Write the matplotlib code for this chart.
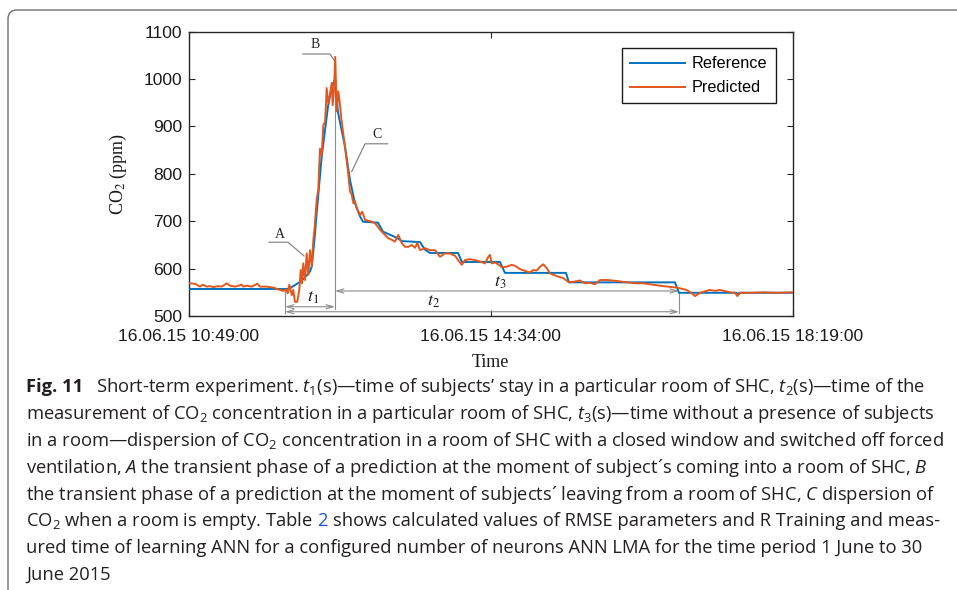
import numpy as np
import matplotlib.pyplot as plt
from matplotlib.patches import FancyBboxPatch

plt.rcParams['mathtext.fontset'] = 'custom'
plt.rcParams['mathtext.rm'] = 'Open Sans'
plt.rcParams['mathtext.it'] = 'Open Sans:italic'
plt.rcParams['mathtext.bf'] = 'Open Sans:bold'

# time axis in minutes after 16.06.15 10:49:00
ref_t = [0, 73, 76, 82.7, 86, 90.2, 91.5, 93.5, 95.2, 98.9, 103.6, 106.6, 108.8,
         111.1, 116.3, 120.0, 123.7, 127.5, 129.7, 140.9, 144.6, 155.0, 158.8,
         172.2, 175.9, 179.6, 200.5, 203.5, 231.8, 235.5, 281.0, 283.2, 362.2,
         365.2, 408.0, 408.7, 410.0, 450]
ref_co2 = [557, 557, 560, 572, 580, 594, 605, 660, 718, 836, 942, 985, 1000,
           929, 857, 787, 738, 710, 699, 697, 678, 665, 658,
           656, 640, 633, 633, 614, 614, 591, 591, 571, 571,
           549, 549, 545, 549, 549]

pred_t = [0, 4.5, 8.2, 10.2, 13.2, 15.7, 18.1, 21.8, 24.4, 28.1, 30.6, 34.3,
          39.3, 40.5, 43.0, 46.7, 50.9, 52.9, 57.9, 62.8, 67.8, 70.3, 72.3,
          73.6, 74.8, 76.6, 77.7, 79.0, 80.7, 82.2, 83.3, 84.2, 85.2, 86.5,
          87.7, 88.9, 90.2, 91.5, 92.7, 93.5, 95.2, 96.4, 97.6, 98.9, 100.1,
          101.4, 102.1, 102.6, 103.8, 105.1, 106.4, 107.1, 108.1, 109.0, 110.1,
          111.3, 112.6, 113.8, 116.3, 118.7, 120.0, 121.3, 122.5, 123.7, 125.0,
          127.5, 129.2, 131.2, 133.6, 136.2, 138.6, 142.4, 146.1, 148.6, 151.1,
          153.5, 156.0, 158.5, 161.0, 163.5, 166.0, 168.5, 170.2, 172.2, 175.9,
          179.6, 183.4, 187.1, 190.8, 194.5, 198.3, 200.7, 203.3, 205.7, 209.4,
          213.2, 216.9, 220.6, 223.1, 224.4, 225.6, 228.1, 230.5, 233.1, 236.8,
          240.5, 243.0, 246.7, 251.7, 254.2, 256.6, 259.2, 261.6, 264.1, 266.6,
          269.1, 271.5, 275.3, 279.0, 282.7, 286.4, 291.4, 295.2, 298.9, 302.6,
          306.4, 311.3, 318.8, 326.3, 333.7, 338.6, 353.5, 363.5, 371.0, 374.7,
          377.2, 380.9, 388.3, 392.1, 395.8, 403.2, 407.0, 408.7, 410.7, 418.2,
          428.1, 438.0, 450]
pred_co2 = [569, 568, 562, 566, 562, 563, 561, 563, 562, 569, 564, 562,
            566, 562, 564, 562, 568, 562, 562, 560, 555, 553, 556,
            548, 566, 544, 555, 530, 530, 555, 597, 569, 611, 576,
            632, 587, 639, 604, 661, 682, 746, 768, 853, 839, 902,
            910, 945, 981, 950, 967, 992, 945, 978, 1047, 932,
            974, 945, 910, 857, 800, 763, 756, 738, 742, 728,
            713, 720, 703, 701, 699, 696, 682, 671, 664, 661,
            657, 671, 654, 646, 646, 650, 644, 654, 639, 643,
            639, 639, 625, 632, 632, 627, 618, 608, 618, 620,
            618, 615, 611, 625, 629, 611, 613, 609, 603, 604,
            608, 606, 599, 594, 592, 597, 596, 604, 609, 601,
            590, 587, 583, 580, 572, 572, 575, 569, 570, 567,
            576, 576, 574, 571, 569, 569, 563, 560, 555, 548,
            542, 549, 555, 553, 555, 550, 549, 542, 549, 549,
            550, 549, 550]

tick_pos = [0, 225, 450]
tick_labels = ['16.06.15 10:49:00', '16.06.15 14:34:00', '16.06.15 18:19:00']

# event times (minutes)
t_enter, t_leave, t_empty = 71.6, 108.8, 365.2

W, H = 957, 590
fig = plt.figure(figsize=(W / 100, H / 100), dpi=100)
ax = fig.add_axes([189 / W, 1 - 316 / H, 603.7 / W, 284.3 / H])

blue, orange = '#0072BD', '#E2571E'
ax.plot(ref_t, ref_co2, color=blue, lw=1.4, label='Reference', zorder=3)
ax.plot(pred_t, pred_co2, color=orange, lw=1.4, label='Predicted', zorder=4)

ax.set_xlim(0, 450)
ax.set_ylim(500, 1100)
ax.set_yticks(range(500, 1101, 100))
ax.set_xticks(tick_pos)
ax.set_xticklabels(tick_labels)
ax.tick_params(direction='in', top=True, right=True, length=4.5, width=0.8,
               color='#262626', labelsize=12.6, labelcolor='#1a1a1a')
ax.tick_params(axis='x', pad=9.5)
ax.tick_params(axis='y', pad=5)
for lab in ax.get_xticklabels() + ax.get_yticklabels():
    lab.set_fontfamily('Liberation Sans')
for s in ax.spines.values():
    s.set_color('#262626')
    s.set_linewidth(1.0)

ax.set_ylabel('CO$_2$ (ppm)', fontfamily='Liberation Serif', fontsize=13,
              math_fontfamily='stix', color='#1a1a1a')
ax.yaxis.set_label_coords(-0.1, 0.5)
ax.set_xlabel('Time', fontfamily='Liberation Serif', fontsize=13, color='#1a1a1a')
ax.xaxis.set_label_coords(0.5, -0.132)
ax.xaxis.label.set_va('top')

leg = ax.legend(loc='upper right', bbox_to_anchor=(0.9718, 0.9416), borderaxespad=0,
                fancybox=False, framealpha=1, edgecolor='#1a1a1a',
                prop={'family': 'Liberation Sans', 'size': 11.7},
                handlelength=3.4, handletextpad=0.4, labelspacing=0.55, borderpad=0.5)
leg.get_frame().set_linewidth(1.0)

# timing annotations
gray = '#8c8c8c'
arrow = dict(arrowstyle='<->,head_length=0.5,head_width=0.15', color=gray, lw=0.8,
             shrinkA=0, shrinkB=0)
ax.plot([t_enter, t_enter], [556, 507], color=gray, lw=0.8, zorder=2)
ax.plot([t_leave, t_leave], [1040, 515], color=gray, lw=0.8, zorder=2)
ax.plot([t_empty, t_empty], [549, 507], color=gray, lw=0.8, zorder=2)
ax.annotate('', xy=(t_leave, 519.6), xytext=(t_enter, 519.6), arrowprops=arrow)
ax.annotate('', xy=(t_empty, 509), xytext=(t_enter, 509), arrowprops=arrow)
ax.annotate('', xy=(t_empty, 552.8), xytext=(t_leave, 552.8), arrowprops=arrow)
tkw = dict(fontfamily='Liberation Serif', fontsize=13, math_fontfamily='stix',
           ha='center', va='center', color='#1a1a1a')
ax.text(92.4, 540, '$t_1$', **tkw)
ax.text(181.9, 530, '$t_2$', **tkw)
ax.text(231.8, 570, '$t_3$', **tkw)

# A, B, C leaders
lkw = dict(color='#7a7a7a', lw=0.8, zorder=2)
ax.plot([59.6, 73.8, 85.7], [655.7, 655.7, 626.8], **lkw)
ax.plot([84.8, 105.1, 108.8], [1052.9, 1052.9, 1037.3], **lkw)
ax.plot([148.1, 131.2, 121.3], [863.4, 863.4, 804.9], **lkw)
ckw = dict(fontfamily='Liberation Serif', fontsize=10, ha='center', va='center',
           color='#222222')
ax.text(67.8, 671, 'A', **ckw)
ax.text(93.9, 1072.6, 'B', **ckw)
ax.text(139.9, 882.4, 'C', **ckw)

# outer frame
frame = FancyBboxPatch((0.08, -1.0), 11.0, 6.8, boxstyle='round,pad=0,rounding_size=0.09',
                       transform=fig.dpi_scale_trans, fill=False, ec='#6e6e6e', lw=1.0)
fig.add_artist(frame)

# caption
fs = 13.2
cap = dict(fontfamily='Open Sans', fontsize=fs, color='#231f20', va='baseline')
base = [392.5 + 26.8 * i for i in range(8)]


def fy(py):
    return 1 - py / H


def after(prev, s, y, gap, **kw):
    return ax.annotate(s, xy=(1, fy(y)), xycoords=(prev, 'figure fraction'),
                       xytext=(gap, 0), textcoords='offset points',
                       annotation_clip=False, **cap, **kw)


t0 = fig.text(26 / W, fy(base[0]), 'Fig. 11', fontweight='bold', **cap)
after(t0, 'Short-term experiment. $t_1$(s)\u2014time of subjects\u2019 stay in a particular '
          'room of SHC, $t_2$(s)\u2014time of the', base[0], 9)
lines = [
    'measurement of CO$_2$ concentration in a particular room of SHC, $t_3$(s)\u2014time '
    'without a presence of subjects',
    'in a room\u2014dispersion of CO$_2$ concentration in a room of SHC with a closed window '
    'and switched off forced',
    'ventilation, $A$ the transient phase of a prediction at the moment of subject\u00b4s '
    'coming into a room of SHC, $B$',
    'the transient phase of a prediction at the moment of subjects\u00b4 leaving from a room '
    'of SHC, $C$ dispersion of',
]
for i, s in enumerate(lines):
    fig.text(26 / W, fy(base[i + 1]), s, **cap)
l6 = fig.text(26 / W, fy(base[5]), 'CO$_2$ when a room is empty. Table', **cap)
l6b = after(l6, '2', base[5], 0.26 * fs)
l6b.set_color('#2156d8')
after(l6b, 'shows calculated values of RMSE parameters and R Training and meas-', base[5],
      0.26 * fs)
fig.text(26 / W, fy(base[6]), 'ured time of learning ANN for a configured number of neurons '
         'ANN LMA for the time period 1 June to 30', **cap)
fig.text(26 / W, fy(base[7]), 'June 2015', **cap)

fig.savefig('out.png', dpi=100)
